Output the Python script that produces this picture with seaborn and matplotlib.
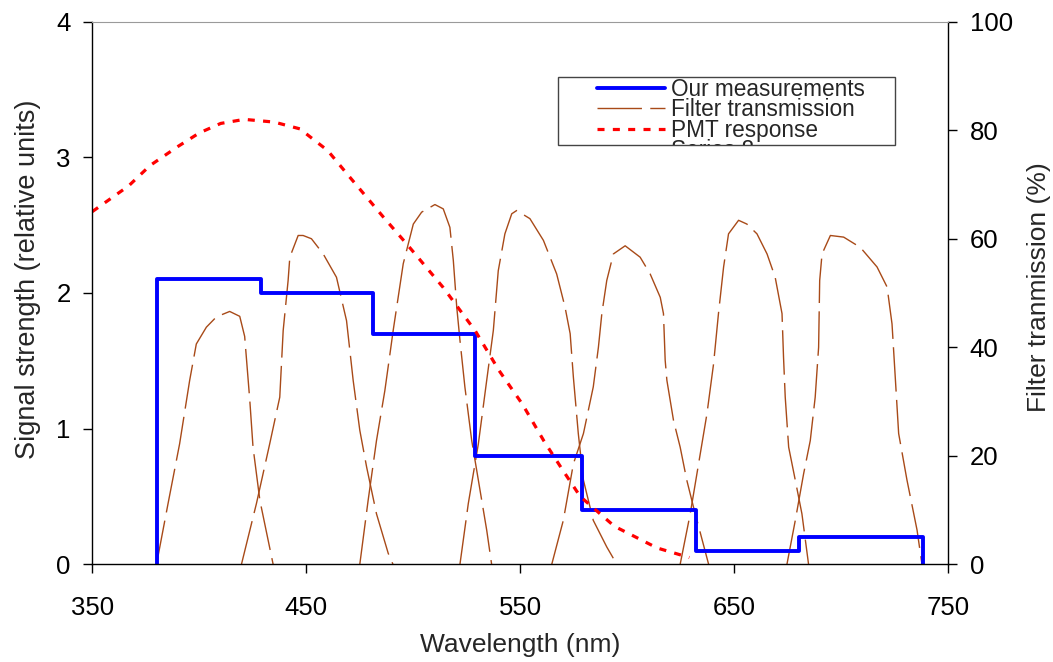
import pandas as pd
import matplotlib.pyplot as plt
import seaborn as sns
from matplotlib.lines import Line2D
from matplotlib.patches import Rectangle

# Measured signal per filter band (step plot): band edges in nm, signal in relative units
band_edges = [380, 429, 481, 529, 579, 632, 680, 738]
signal = [2.1, 2.0, 1.7, 0.8, 0.4, 0.1, 0.2]

# PMT response (relative units)
pmt_wl = [350, 367, 377, 390, 400, 410, 421, 435, 447, 460, 470, 486,
          497, 514, 529, 540, 551, 561, 570, 578, 594, 614, 629]
pmt_resp = [2.60, 2.79, 2.94, 3.08, 3.18, 3.25, 3.28, 3.26, 3.21, 3.05, 2.86, 2.56,
            2.36, 2.04, 1.72, 1.43, 1.18, 0.91, 0.69, 0.50, 0.28, 0.12, 0.05]

# Filter transmission curves (%)
f1_wl = [380, 385.4, 390.8, 395.5, 398.6, 403.3, 408, 414.2, 418.9, 421.2, 423.6, 425.1, 428.3, 434.5]
f1_t = [0, 11.2, 22.2, 33.9, 40.6, 43.7, 45.6, 46.6, 45.7, 42.0, 30.2, 21.6, 11.8, 0]
f2_wl = [419.7, 426.7, 432.9, 437.6, 439.2, 441.5, 442.3, 446.2, 448.5, 452.4, 457.9, 464.1,
         468.8, 471.9, 475.0, 478.2, 482.8, 488.3, 490.5]
f2_t = [0, 11.2, 22.2, 30.8, 43.1, 52.3, 56.6, 60.6, 60.6, 60.0, 57.2, 52.9,
        44.9, 33.9, 24.7, 17.9, 9.3, 2.0, 0]
f3_wl = [475.0, 478.9, 482.8, 486.7, 489.1, 490.6, 495.3, 500.0, 503.9, 510.1, 514.0, 517.1,
         518.7, 520.3, 521.8, 524.1, 527.3, 530.4, 534.3, 536.6]
f3_t = [0, 11.8, 22.8, 32.0, 38.8, 43.1, 55.4, 62.7, 64.9, 66.3, 65.5, 62.1,
        56.0, 47.4, 41.3, 32.7, 22.8, 15.5, 6.3, 0]
f4_wl = [521.8, 525.7, 530.4, 534.3, 537.4, 539.7, 542.8, 546.0, 548.3, 554.5, 560.8, 567.0,
         570.9, 573.3, 574.8, 577.1, 579.5, 584.1, 590.4, 595.1]
f4_t = [0, 11.2, 22.2, 33.9, 43.1, 54.1, 60.9, 64.6, 65.2, 63.7, 59.7, 53.5,
        47.4, 42.5, 34.5, 24.1, 15.5, 8.1, 3.2, 0]
f5_wl = [564.7, 570.1, 574.8, 579.5, 584.1, 586.5, 588.1, 590.4, 593.5, 599.0, 606.0, 610.7,
         615.4, 616.9, 617.7, 618.5, 621.6, 624.7, 627.8, 630.9, 638.0]
f5_t = [0, 8.1, 18.5, 24.1, 32.7, 40.0, 46.2, 52.3, 57.2, 58.7, 56.6, 53.5,
        49.2, 46.2, 37.6, 33.9, 26.5, 21.6, 15.5, 10.6, 0]
f6_wl = [624.7, 629.4, 633.3, 637.2, 640.3, 642.6, 645.0, 647.3, 652.0, 655.9, 660.6, 665.3,
         669.1, 672.3, 673.0, 673.8, 675.4, 678.5, 681.6, 684.7]
f6_t = [0, 9.3, 18.5, 27.7, 36.9, 46.2, 54.8, 60.9, 63.4, 62.7, 60.9, 57.2,
        52.9, 46.2, 38.2, 30.8, 21.6, 15.5, 9.3, 0]
f7_wl = [674.6, 678.5, 682.4, 685.5, 687.8, 689.4, 689.9, 691.0, 694.9, 701.1, 708.9, 716.7,
         721.4, 723.7, 725.3, 726.8, 730.7, 735.4, 737.7]
f7_t = [0, 8.1, 16.7, 22.8, 30.8, 40.0, 52.3, 57.2, 60.6, 60.3, 58.4, 54.8,
        51.1, 44.3, 33.9, 24.1, 15.5, 6.3, 0]

x_ticks = [350, 450, 550, 650, 750]
left_ticks = [0, 1, 2, 3, 4]
right_ticks = [0, 20, 40, 60, 80, 100]

sns.set_style('ticks')
plt.rcParams['font.family'] = ['Liberation Sans', 'DejaVu Sans']

W, H = 1053, 662
fig, ax = plt.subplots(figsize=(W / 100, H / 100), dpi=100)
fig.subplots_adjust(left=92.3 / W, right=948.3 / W, bottom=1 - 564.3 / H, top=1 - 21.7 / H)
ax2 = ax.twinx()

# filter curves on the right axis
filters = [(f1_wl, f1_t), (f2_wl, f2_t), (f3_wl, f3_t), (f4_wl, f4_t),
           (f5_wl, f5_t), (f6_wl, f6_t), (f7_wl, f7_t)]
filt_df = pd.concat([pd.DataFrame({'wl': w, 'trans': t, 'filter': i})
                     for i, (w, t) in enumerate(filters)], ignore_index=True)
sns.lineplot(data=filt_df, x='wl', y='trans', units='filter', estimator=None, sort=False,
             color='#A84A18', lw=1.0, linestyle=(0, (32, 6)), legend=False, ax=ax2)
filt_line = ax2.lines[0]

# step line for our measurements
step_x = [band_edges[0]] + band_edges
step_y = [0] + signal + [0]
sns.lineplot(x=step_x, y=step_y, estimator=None, sort=False, drawstyle='steps-post',
             color='#0000FF', lw=2.8, ax=ax)
meas_line = ax.lines[-1]

sns.lineplot(x=pmt_wl, y=pmt_resp, estimator=None, sort=False, color='#FF0000',
             lw=2.3, linestyle=(0, (2.2, 2.6)), ax=ax)
pmt_line = ax.lines[-1]

ax.set_zorder(ax2.get_zorder() + 1)
ax.patch.set_visible(False)

ax.set_xlim(350, 750)
ax.set_ylim(0, 4)
ax2.set_ylim(0, 100)
ax.set_xticks(x_ticks)
ax.set_yticks(left_ticks)
ax2.set_yticks(right_ticks)

for a in (ax, ax2):
    a.tick_params(length=6.5, width=1, color='black', labelsize=18.5, labelcolor='black')
    for s in a.spines.values():
        s.set_visible(False)
ax.tick_params(axis='x', pad=16)
ax.tick_params(axis='y', pad=9)
ax2.tick_params(axis='y', pad=9)
ax.spines['left'].set_visible(True)
ax.spines['bottom'].set_visible(True)
ax.spines['top'].set_visible(True)
ax.spines['top'].set_color('#9a9a9a')
ax2.spines['right'].set_visible(True)
for s in ('left', 'bottom'):
    ax.spines[s].set_color('black')
    ax.spines[s].set_linewidth(1)
ax2.spines['right'].set_color('black')
ax2.spines['right'].set_linewidth(1)

ax.set_xlabel('Wavelength (nm)', fontsize=19)
ax.set_ylabel('Signal strength (relative units)', fontsize=19.5)
ax2.set_ylabel('Filter tranmission (%)', fontsize=19)
ax.xaxis.set_label_coords(0.5, (564.3 - 633) / 542.6)
ax.yaxis.set_label_coords((41 - 92.3) / 856, 0.525)
ax2.yaxis.set_label_coords((1027 - 92.3) / 856, 0.51)

# legend with a fixed box that cuts off the last entry
box = Rectangle((558 / W, 1 - 145 / H), (895 - 558) / W, (145 - 77) / H,
                transform=fig.transFigure, facecolor='white', edgecolor='#444444',
                lw=1, zorder=4)
fig.add_artist(box)
series8 = Line2D([], [], linestyle='none')
leg = fig.legend([meas_line, filt_line, pmt_line, series8],
                 ['Our measurements', 'Filter transmission', 'PMT response', 'Series 8'],
                 loc='upper left', bbox_to_anchor=(597 / W, 1 - 78 / H),
                 bbox_transform=fig.transFigure, frameon=False, borderpad=0,
                 borderaxespad=0, handlelength=3.0, handletextpad=0.28,
                 labelspacing=-0.12, fontsize=16.3)
leg.set_zorder(6)
for t in leg.get_texts():
    t.set_clip_path(box)
for h in leg.legend_handles:
    h.set_clip_path(box)

plt.savefig('out.png', dpi=100)
